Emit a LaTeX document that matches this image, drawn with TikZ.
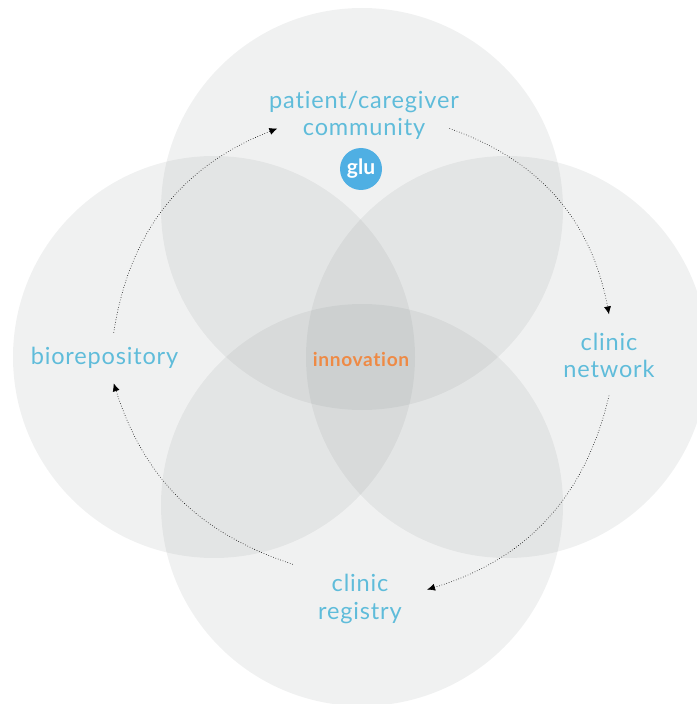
\documentclass[tikz,border=0pt]{standalone}
\usepackage{fontspec}
\setmainfont{Lato}[LetterSpace=3.5,Ligatures=NoCommon]
\definecolor{labelblue}{HTML}{5FBCDA}
\definecolor{glublue}{HTML}{4FAFE3}
\definecolor{innovorange}{HTML}{EE8A45}
\definecolor{petalgray}{RGB}{122,130,130}
\tikzset{
  petal/.style={fill=petalgray,fill opacity=0.11},
  place/.style={text=labelblue,font=\fontsize{13.4}{15.4}\selectfont,align=center,inner sep=0pt},
  flow/.style={black,line width=0.35pt,dash pattern=on 0.35pt off 1.1pt,-{Latex[length=4.5pt,width=4pt]}}
}
\usetikzlibrary{arrows.meta}
\begin{document}
\begin{tikzpicture}[scale=0.2]
  \clip (0,0) rectangle (69.7,-70.4);
  \fill [petal] (36.2,-20.9) circle (20.1);
  \fill [petal] (21.4,-35.7) circle (20.1);
  \fill [petal] (50.7,-35.7) circle (20.1);
  \fill [petal] (36.2,-50.5) circle (20.1);
  \node [place] (patient) at (36.4,-10.15) {patient/caregiver};
  \node [place,inner xsep=0.48cm] (community) at (36.4,-12.85) {community};
  \node [circle,fill=glublue,text=white,inner sep=0pt,minimum size=0.84cm,font=\bfseries\fontsize{12}{12}\selectfont\addfontfeature{LetterSpace=0}] (glu) at (36.1,-16.9) {glu};
  \node [place,inner ysep=0.36cm] (network) at (60.9,-35.5) {clinic\\network};
  \node [place,inner xsep=0.5cm,inner ysep=0.2cm] (registry) at (36,-59.9) {clinic\\registry};
  \node [place,minimum height=1cm] (biorepo) at (10.45,-35.8) {biorepository};
  \node [text=innovorange,inner sep=0pt,font=\bfseries\fontsize{10.9}{12}\selectfont] (innovation) at (36.1,-35.9) {innovation};
  \draw [flow] (community.east) to [bend left=30] (network.north);
  \draw [flow] (network.south) to [bend left=30] (registry.8);
  \draw [flow] (registry.north west) to [bend left=27] (biorepo.290);
  \draw [flow] (biorepo.70) to [bend left=30] ([xshift=-0.12cm]community.west);
\end{tikzpicture}
\end{document}
